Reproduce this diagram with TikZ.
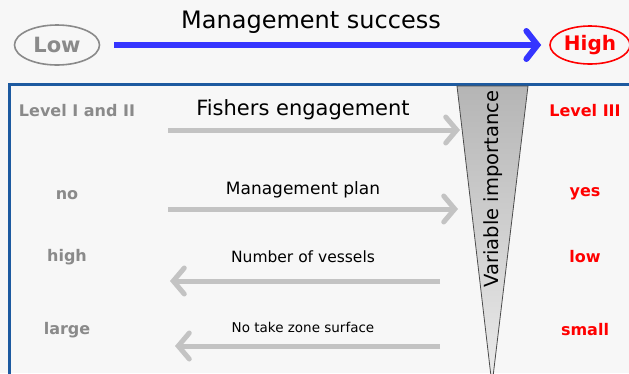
\documentclass[tikz,border=0pt]{standalone}
\usepackage{fontspec}
\setmainfont{DejaVu Sans}
\usetikzlibrary{arrows.meta}
\usetikzlibrary {shapes.geometric}
\usetikzlibrary{positioning}

\definecolor{lowgray}{HTML}{8A8A8A}
\definecolor{arrowgray}{HTML}{C3C3C3}
\definecolor{boxblue}{HTML}{1D5AA0}
\definecolor{mblue}{HTML}{3535FF}
\definecolor{hired}{HTML}{FF0000}
\definecolor{bggray}{HTML}{F7F7F7}

\begin{document}
\begin{tikzpicture}[x=1pt,y=-1pt,
    lowlabel/.style={font=\bfseries\fontsize{16}{18}\selectfont,text=lowgray},
    highlabel/.style={font=\bfseries\fontsize{16}{18}\selectfont,text=hired},
    factor/.style={arrowgray,line width=5pt,
        arrows = -{Straight Barb[length=11pt,width=26pt,line cap=round]}}]

            \useasboundingbox (0,0) rectangle (629,373);
            \clip (0,0) rectangle (629,373);
            \fill[bggray] (0,0) rectangle (629,373);

            % \draw [help lines,step=50] (0,0) grid (629,373);

            \path   (57,45)  node (low)  [ellipse,draw=lowgray,line width=1.6pt,minimum width=85pt,minimum height=40pt,inner sep=0pt,
                                          text=lowgray,font=\bfseries\fontsize{21}{24}\selectfont] {Low}
                    (590,45) node (high) [ellipse,draw=hired,line width=1.6pt,minimum width=80pt,minimum height=38pt,inner sep=0pt,
                                          text=hired,font=\bfseries\fontsize{20}{24}\selectfont] {High}
                    (311,22) node (succ) [font=\fontsize{24}{28}\selectfont] {Management success};

            \draw[mblue,line width=6pt,shorten <=14pt,shorten >=8pt,
                  arrows = -{Straight Barb[length=11pt,width=28pt,line cap=round]}] (low) -- (high);

            % frame
            \draw[boxblue,line width=3pt] (9,84) rectangle (640,400);

            % funnel
            \shade[top color=gray!58,bottom color=gray!15,draw=black!70,line width=0.8pt]
                  (457,86) -- (528,86) -- (492,385) -- cycle;
            \node (imp) [rotate=90,font=\fontsize{19.5}{22}\selectfont] at (493,189) {Variable importance};

            % left and right labels
            \path   (77,111)  node (lev12) [lowlabel]  {Level I and II}
                    (67,195)  node (no)    [lowlabel]  {no}
                    (67,257)  node (hi)    [lowlabel]  {high}
                    (67,330)  node (lg)    [lowlabel]  {large}
                    (585,111) node (lev3)  [highlabel] {Level III}
                    (585,194) node (yes)   [highlabel] {yes}
                    (585,257) node (lo)    [highlabel] {low}
                    (585,330) node (sm)    [highlabel] {small};

            % factors
            \path   (303,110) node (fish) [font=\fontsize{21}{24}\selectfont] {Fishers engagement}
                    (303,190) node (plan) [font=\fontsize{17}{20}\selectfont] {Management plan}
                    (303,257) node (vess) [font=\fontsize{15.5}{18}\selectfont] {Number of vessels}
                    (303,327) node (ntz)  [font=\fontsize{13.5}{16}\selectfont] {No take zone surface};

            \coordinate (fish-a) at (168,130);  \coordinate (fish-b) at (460,130);
            \coordinate (plan-a) at (168,209);  \coordinate (plan-b) at (458,209);
            \coordinate (vess-a) at (440,281);  \coordinate (vess-b) at (170,281);
            \coordinate (ntz-a)  at (440,346);  \coordinate (ntz-b)  at (175,346);

            \draw[factor] (fish-a) -- (fish-b);
            \draw[factor] (plan-a) -- (plan-b);
            \draw[factor] (vess-a) -- (vess-b);
            \draw[factor] (ntz-a) -- (ntz-b);

\end{tikzpicture}
\end{document}
